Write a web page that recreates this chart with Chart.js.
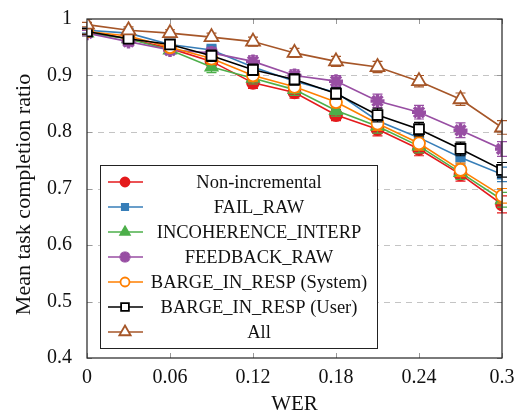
<!DOCTYPE html>
<html>
<head>
<meta charset="utf-8">
<script src="https://cdn.jsdelivr.net/npm/chart.js@4.4.1/dist/chart.umd.min.js"></script>
<style>
  html, body { margin: 0; padding: 0; background: #fff; }
  #wrap { width: 520px; height: 417px; }
</style>
</head>
<body>
<div id="wrap"><canvas id="chart"></canvas></div>
<script>
// --- DATA ---
const wer = [0, 0.03, 0.06, 0.09, 0.12, 0.15, 0.18, 0.21, 0.24, 0.27, 0.3];
const xTicks = [0, 0.06, 0.12, 0.18, 0.24, 0.3];
const yTicks = [0.4, 0.5, 0.6, 0.7, 0.8, 0.9, 1];
const yTitle = 'Mean task completion ratio';

const labels = ['Non-incremental', 'FAIL_RAW', 'INCOHERENCE_INTERP', 'FEEDBACK_RAW',
  'BARGE_IN_RESP (System)', 'BARGE_IN_RESP (User)', 'All'];

const nonIncremental = [0.978, 0.965, 0.948, 0.925, 0.887, 0.870, 0.830, 0.805, 0.770, 0.725, 0.672];
const failRaw        = [0.980, 0.975, 0.955, 0.945, 0.915, 0.890, 0.870, 0.820, 0.790, 0.755, 0.725];
const incoherence    = [0.975, 0.965, 0.945, 0.915, 0.895, 0.875, 0.838, 0.810, 0.775, 0.728, 0.680];
const feedbackRaw    = [0.975, 0.960, 0.945, 0.940, 0.925, 0.900, 0.890, 0.855, 0.835, 0.803, 0.770];
const bargeSystem    = [0.978, 0.970, 0.950, 0.930, 0.900, 0.880, 0.853, 0.815, 0.780, 0.733, 0.687];
const bargeUser      = [0.978, 0.965, 0.955, 0.935, 0.910, 0.893, 0.868, 0.830, 0.805, 0.770, 0.733];
const allCombined    = [0.990, 0.980, 0.975, 0.968, 0.960, 0.940, 0.925, 0.915, 0.890, 0.858, 0.808];

// half-width of the error bars
const errNonIncremental = [0.005, 0.008, 0.008, 0.010, 0.010, 0.010, 0.010, 0.012, 0.012, 0.012, 0.015];
const errFailRaw        = [0.005, 0.006, 0.008, 0.010, 0.010, 0.010, 0.010, 0.012, 0.012, 0.012, 0.013];
const errIncoherence    = [0.005, 0.008, 0.008, 0.010, 0.010, 0.010, 0.010, 0.012, 0.012, 0.012, 0.013];
const errFeedbackRaw    = [0.005, 0.008, 0.008, 0.010, 0.010, 0.010, 0.010, 0.012, 0.012, 0.013, 0.013];
const errBargeSystem    = [0.005, 0.008, 0.008, 0.010, 0.010, 0.010, 0.010, 0.012, 0.012, 0.012, 0.013];
const errBargeUser      = [0.005, 0.006, 0.008, 0.010, 0.010, 0.010, 0.010, 0.012, 0.012, 0.012, 0.013];
const errAll            = [0.004, 0.006, 0.006, 0.007, 0.008, 0.008, 0.009, 0.010, 0.010, 0.011, 0.012];

// --- STYLES ---
const series = [
  { values: nonIncremental, errors: errNonIncremental, color: '#e41a1c', style: 'circle',   fill: true,  r: 6 },
  { values: failRaw,        errors: errFailRaw,        color: '#377eb8', style: 'rect',     fill: true,  r: 6 },
  { values: incoherence,    errors: errIncoherence,    color: '#4daf4a', style: 'triangle', fill: true,  r: 7 },
  { values: feedbackRaw,    errors: errFeedbackRaw,    color: '#984ea3', style: 'star',     fill: true,  r: 7 },
  { values: bargeSystem,    errors: errBargeSystem,    color: '#ff7f00', style: 'circle',   fill: false, r: 6 },
  { values: bargeUser,      errors: errBargeUser,      color: '#000000', style: 'rect',     fill: false, r: 7 },
  { values: allCombined,    errors: errAll,            color: '#a65628', style: 'triangle', fill: false, r: 8 }
];

const serif = '"Liberation Serif", "Times New Roman", serif';

const datasets = series.map((s, i) => ({
  label: labels[i],
  data: s.values.map((v, j) => ({ x: wer[j], y: v })),
  errors: s.errors,
  borderColor: s.color,
  backgroundColor: s.fill ? s.color : '#ffffff',
  borderWidth: 1.6,
  pointStyle: s.style,
  pointRadius: s.r,
  pointBorderWidth: s.style === 'star' ? 3.5 : 1.8,
  pointBackgroundColor: s.fill ? s.color : '#ffffff',
  pointBorderColor: s.color,
  fill: false,
  tension: 0,
  order: series.length - i
}));

// grid, error bars, frame, inner ticks, y title and legend box
const decorations = {
  id: 'decorations',
  beforeDatasetDraw(chart, args) {
    const ds = chart.data.datasets[args.index];
    const ctx = chart.ctx;
    const xs = chart.scales.x, ys = chart.scales.y;
    ctx.save();
    ctx.strokeStyle = ds.borderColor;
    ctx.lineWidth = 1.2;
    ds.data.forEach((p, j) => {
      const e = ds.errors[j];
      const px = xs.getPixelForValue(p.x);
      const top = ys.getPixelForValue(p.y + e);
      const bot = ys.getPixelForValue(p.y - e);
      ctx.beginPath();
      ctx.moveTo(px, top); ctx.lineTo(px, bot);
      ctx.moveTo(px - 5, top); ctx.lineTo(px + 5, top);
      ctx.moveTo(px - 5, bot); ctx.lineTo(px + 5, bot);
      ctx.stroke();
    });
    ctx.restore();
  },
  beforeDatasetsDraw(chart) {
    const ctx = chart.ctx;
    const a = chart.chartArea;
    const xs = chart.scales.x, ys = chart.scales.y;
    ctx.save();
    // dashed horizontal grid
    ctx.strokeStyle = '#c4c4c4';
    ctx.lineWidth = 1;
    ctx.setLineDash([6, 5]);
    yTicks.slice(1, -1).forEach(t => {
      const py = Math.round(ys.getPixelForValue(t)) + 0.5;
      ctx.beginPath();
      ctx.moveTo(a.left, py); ctx.lineTo(a.right, py);
      ctx.stroke();
    });
    ctx.setLineDash([]);
    ctx.strokeStyle = '#999999';
    xTicks.forEach(t => {
      const px = Math.round(xs.getPixelForValue(t)) + 0.5;
      ctx.beginPath();
      ctx.moveTo(px, a.bottom); ctx.lineTo(px, a.bottom - 5);
      ctx.moveTo(px, a.top); ctx.lineTo(px, a.top + 5);
      ctx.stroke();
    });
    yTicks.forEach(t => {
      const py = Math.round(ys.getPixelForValue(t)) + 0.5;
      ctx.beginPath();
      ctx.moveTo(a.left, py); ctx.lineTo(a.left + 5, py);
      ctx.moveTo(a.right, py); ctx.lineTo(a.right - 5, py);
      ctx.stroke();
    });
    ctx.restore();
  },
  afterDraw(chart) {
    const ctx = chart.ctx;
    const a = chart.chartArea;
    ctx.save();
    ctx.strokeStyle = '#222222';
    ctx.lineWidth = 1.2;
    ctx.strokeRect(a.left, a.top, a.right - a.left, a.bottom - a.top);

    // y axis title
    ctx.save();
    ctx.translate(24, (a.top + a.bottom) / 2 + 6);
    ctx.rotate(-Math.PI / 2);
    ctx.font = '22px ' + serif;
    ctx.fillStyle = '#111111';
    ctx.textAlign = 'center';
    ctx.textBaseline = 'middle';
    ctx.fillText(yTitle, 0, 0);
    ctx.restore();

    // legend box
    const bx = 100, by = 165, bw = 277, bh = 183;
    ctx.fillStyle = '#ffffff';
    ctx.fillRect(bx, by, bw, bh);
    ctx.strokeStyle = '#222222';
    ctx.lineWidth = 1;
    ctx.strokeRect(bx + 0.5, by + 0.5, bw, bh);
    ctx.font = '18.5px ' + serif;
    ctx.textAlign = 'center';
    ctx.textBaseline = 'middle';
    chart.data.datasets.forEach((ds, i) => {
      const y = by + 17 + i * 25;
      ctx.strokeStyle = ds.borderColor;
      ctx.lineWidth = 1.6;
      ctx.beginPath();
      ctx.moveTo(108, y); ctx.lineTo(143, y);
      ctx.stroke();
      ctx.fillStyle = ds.pointBackgroundColor;
      ctx.strokeStyle = ds.pointBorderColor;
      ctx.lineWidth = ds.pointBorderWidth;
      Chart.helpers.drawPoint(ctx, { pointStyle: ds.pointStyle, radius: ds.pointRadius - 1.5, rotation: 0, borderWidth: ds.pointBorderWidth }, 125, y);
      ctx.fillStyle = '#111111';
      ctx.fillText(ds.label, 259, y + 1);
    });
    ctx.restore();
  }
};

const ctx = document.getElementById('chart').getContext('2d');

new Chart(ctx, {
  type: 'line',
  data: { datasets },
  options: {
    responsive: true,
    maintainAspectRatio: false,
    animation: false,
    devicePixelRatio: 1,
    layout: { padding: { top: 15, right: 18, left: 0, bottom: 0 } },
    plugins: {
      legend: { display: false },
      tooltip: { enabled: false }
    },
    scales: {
      x: {
        type: 'linear',
        min: 0,
        max: 0.3,
        afterBuildTicks: s => { s.ticks = xTicks.map(v => ({ value: v })); },
        afterFit: s => { s.height = 59; },
        grid: { display: false },
        border: { display: false },
        ticks: {
          color: '#111',
          font: { family: serif, size: 20 },
          padding: 0,
          maxRotation: 0,
          callback: v => String(+v.toFixed(2))
        },
        title: {
          display: true,
          text: 'WER',
          color: '#111',
          font: { family: serif, size: 21 },
          padding: { top: 1, bottom: 0 }
        }
      },
      y: {
        min: 0.4,
        max: 1,
        afterBuildTicks: s => { s.ticks = yTicks.map(v => ({ value: v })); },
        afterFit: s => { s.width = 87; },
        grid: { display: false },
        border: { display: false },
        ticks: {
          color: '#111',
          font: { family: serif, size: 20 },
          padding: 7,
          callback: v => String(+v.toFixed(1))
        }
      }
    }
  },
  plugins: [decorations]
});
</script>
</body>
</html>
